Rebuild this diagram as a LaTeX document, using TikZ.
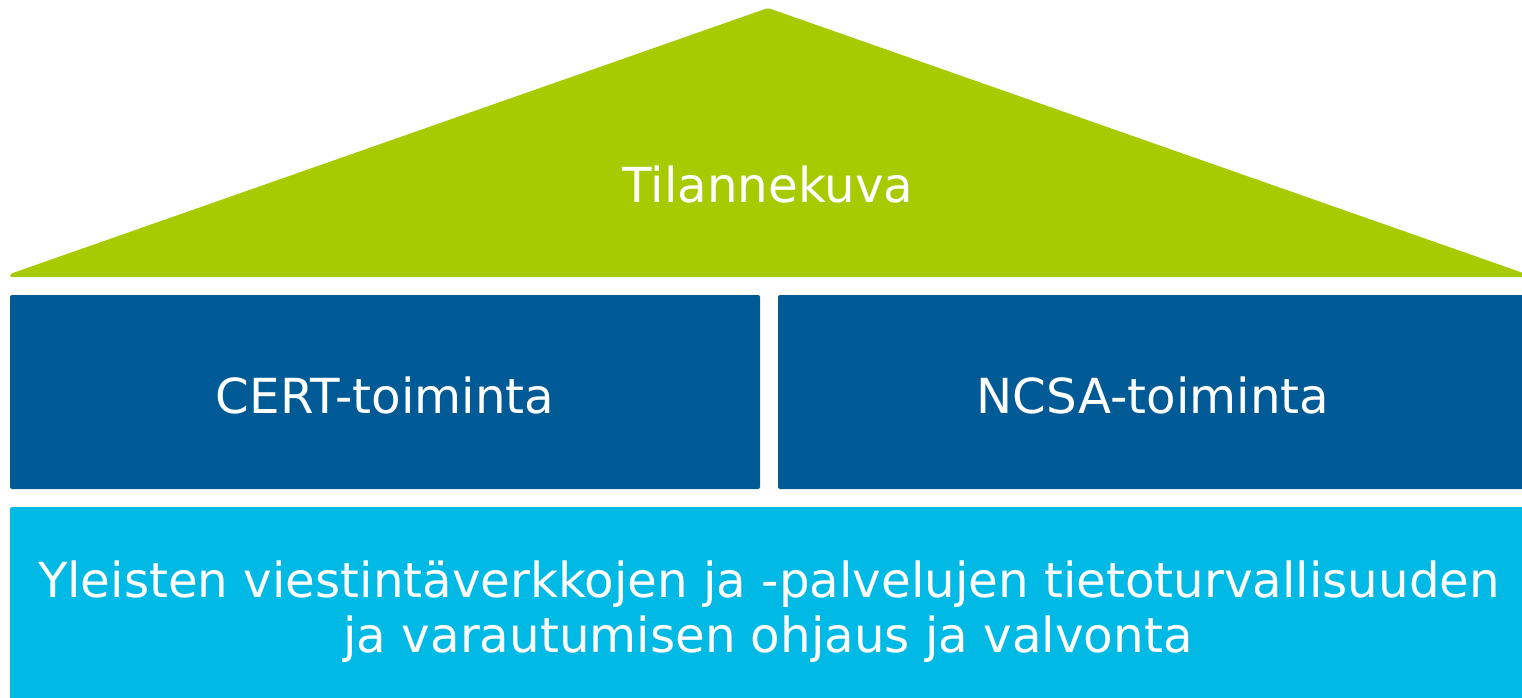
\documentclass[tikz,border=0pt]{standalone}
\usepackage{fontspec}
\setmainfont{DejaVu Sans}
\definecolor{roofgreen}{HTML}{A8CA00}
\definecolor{darkblue}{HTML}{005A96}
\definecolor{lightblue}{HTML}{00B9E4}
\begin{document}
\begin{tikzpicture}[x=1pt,y=-1pt,
  lbl/.style={text=white,font=\fontsize{48.3}{56}\selectfont,inner sep=0pt,anchor=base},
  block/.style={rounded corners=2pt}]
\useasboundingbox (0,0) rectangle (1522,698);
\begin{scope}
\clip (0,0) rectangle (1522,698);
\fill[roofgreen,rounded corners=2pt] (10,274) -- (768,8) -- (1526,274) -- (1526,277) -- (10,277) -- cycle;
\fill[darkblue,block] (10,295) rectangle (760,489);
\fill[darkblue,block] (778,295) rectangle (1530,489);
\fill[lightblue,block] (10,507) rectangle (1530,710);
\end{scope}
\node[lbl] (roof) at (768,202) {Tilannekuva};
\node[lbl] (cert) at (385,413) {CERT-toiminta};
\node[lbl] (ncsa) at (1153,413) {NCSA-toiminta};
\node[lbl] (base1) at (769,597) {Yleisten viestintäverkkojen ja -palvelujen tietoturvallisuuden};
\node[lbl] (base2) at (768,652) {ja varautumisen ohjaus ja valvonta};
\end{tikzpicture}
\end{document}
